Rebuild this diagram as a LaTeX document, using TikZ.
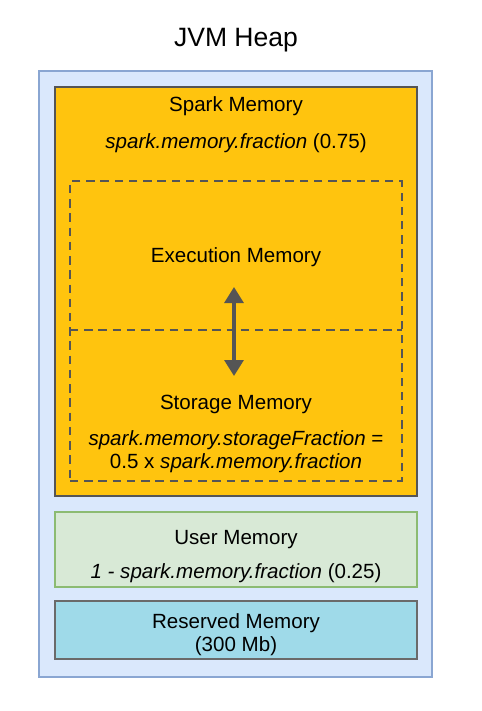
\documentclass[tikz,border=0pt]{standalone}
\usepackage{fontspec}
\setmainfont{Liberation Sans}
\usepackage{xcolor}
\usetikzlibrary{arrows, arrows.meta}
\usetikzlibrary{calc}

\definecolor{heapfill}{HTML}{DAE8FC}
\definecolor{heapline}{HTML}{8AA6D2}
\definecolor{sparkfill}{HTML}{FFC40E}
\definecolor{darkline}{HTML}{555555}
\definecolor{userfill}{HTML}{D8E9D6}
\definecolor{userline}{HTML}{8CBB72}
\definecolor{resfill}{HTML}{9FDAE9}
\definecolor{resline}{HTML}{6A6A6A}

\begin{document}
\begin{tikzpicture}[x=0.02cm, y=-0.02cm,
    every node/.style={font=\fontsize{11.7}{13}\selectfont, align=center, inner sep=0pt},
    membox/.style={rectangle, draw, minimum width=7.24cm},
    dashline/.style={draw=darkline, line width=1.3pt, dash pattern=on 4.8pt off 3.3pt}
  ]
      \useasboundingbox (0,0) rectangle (481,711);

      \node[font=\fontsize{15.1}{18}\selectfont] (title) at (236,40) {JVM Heap};

      \node[rectangle, draw=heapline, fill=heapfill, line width=1.1pt, minimum width=7.86cm, minimum height=12.12cm] (heap) at (235.5,374) {};

      \node[membox, draw=darkline, fill=sparkfill, line width=1.6pt, minimum height=8.18cm] (spark) at (236,291.5) {};
      \node (sparklbl) at (236,106) {Spark Memory};
      \node (sparkfrac) at (236,143) {\textit{spark.memory.fraction} (0.75)};

      \node[rectangle, dashline, minimum width=6.64cm, minimum height=6cm] (unified) at (236,331) {};
      \coordinate (sepl) at (70,330);
      \coordinate (sepr) at (402,330);
      \draw[dashline] (sepl) -- (sepr);

      \node (execlbl) at (236,257) {Execution Memory};
      \node (storelbl) at (236,404) {Storage Memory};
      \node (storefrac) at (236,451.5) {\textit{spark.memory.storageFraction} =\\0.5 x \textit{spark.memory.fraction}};

      \coordinate (up) at (234,287);
      \coordinate (down) at (234,376);
      \draw[{Triangle[width=0.38cm,length=0.32cm]}-{Triangle[width=0.38cm,length=0.32cm]}, line width=1.8pt, draw=darkline, fill=darkline] (up) -- (down);

      \node[membox, draw=userline, fill=userfill, line width=1.1pt, minimum height=1.5cm] (user) at (236,549.5) {};
      \node (userlbl) at (236,540) {User Memory};
      \node (userfrac) at (236,573) {\textit{1 - spark.memory.fraction} (0.25)};

      \node[membox, draw=resline, fill=resfill, line width=1.4pt, minimum height=1.16cm] (res) at (236,630) {};
      \node (reslbl) at (236,634.5) {Reserved Memory\\(300 Mb)};
\end{tikzpicture}
\end{document}
